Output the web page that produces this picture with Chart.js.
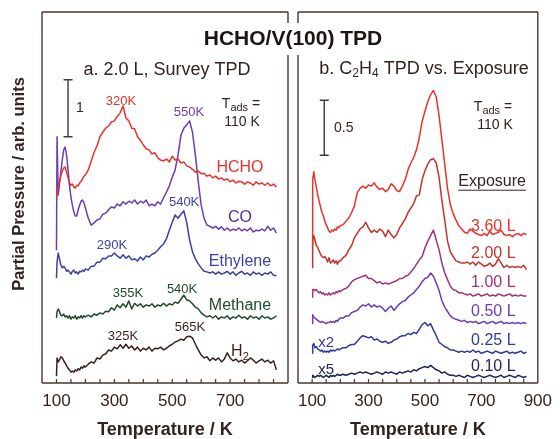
<!DOCTYPE html>
<html><head><meta charset="utf-8">
<script src="https://cdn.jsdelivr.net/npm/chart.js@4.4.1/dist/chart.umd.min.js"></script>
<style>
html,body{margin:0;padding:0;background:#fff;}
#wrap{position:relative;width:560px;height:439px;overflow:hidden;background:#fff;}
canvas{position:absolute;left:0;top:0;}
</style></head><body>
<div id="wrap"><canvas id="cA" width="560" height="439"></canvas><canvas id="cB" width="560" height="439"></canvas></div>
<script>
// ---------- DATA ----------
const temps = [100,102,106,110,115,120,125,130,135,140,145,150,155,160,165,170,175,180,185,190,195,200,
 210,220,230,240,250,260,270,280,290,300,
 310,320,330,340,350,360,370,380,390,400,
 410,420,430,440,450,460,470,480,490,500,
 510,520,530,540,550,560,570,580,590,600,
 610,620,630,640,650,660,670,680,690,700,
 710,720,730,740,750,760,770,780,790,800,
 810,820,830,840,850,860];

// panel a (2.0 L survey), arb. units
const hcho = [3.26,3.35,3.46,3.53,3.63,3.72,3.77,3.79,3.70,3.60,3.51,3.47,3.49,3.44,3.42,3.47,3.46,3.51,3.54,3.58,3.63,3.65,
 3.74,3.89,4.05,4.16,4.32,4.40,4.47,4.51,4.58,4.60,
 4.68,4.74,4.86,4.65,4.60,4.47,4.46,4.32,4.26,4.18,
 4.11,4.09,4.02,4.04,3.95,3.91,3.90,3.93,3.88,3.98,
 3.91,3.93,3.86,3.88,3.81,3.79,3.75,3.70,3.72,3.67,
 3.68,3.63,3.65,3.60,3.63,3.58,3.60,3.56,3.58,3.53,
 3.56,3.51,3.54,3.53,3.49,3.53,3.51,3.47,3.53,3.49,
 3.51,3.47,3.51,3.46,3.49,3.44];
const co = [2.33,4.32,3.30,3.47,3.70,3.91,4.09,4.14,4.00,3.74,3.47,3.26,3.12,3.00,2.93,2.93,3.04,3.12,3.19,3.21,3.16,3.07,
 2.89,2.77,2.81,2.86,2.88,2.96,2.98,3.04,3.09,3.07,
 3.14,3.11,3.18,3.14,3.19,3.16,3.21,3.14,3.19,3.16,
 3.21,3.11,3.14,3.11,3.18,3.14,3.25,3.35,3.46,3.61,
 3.74,4.00,4.35,4.47,4.53,4.60,4.40,4.00,3.53,3.12,
 2.89,2.77,2.75,2.72,2.75,2.70,2.74,2.68,2.72,2.67,
 2.70,2.68,2.72,2.67,2.70,2.67,2.72,2.65,2.68,2.67,
 2.70,2.67,2.75,2.68,2.72,2.63];
const ethylene = [1.84,2.12,2.28,2.19,2.07,2.02,2.05,2.02,1.96,1.98,1.95,1.91,1.96,1.98,1.93,1.95,1.91,1.96,1.95,1.98,1.96,2.00,
 1.98,2.05,2.05,2.12,2.12,2.19,2.18,2.23,2.23,2.28,
 2.23,2.19,2.25,2.19,2.23,2.16,2.18,2.14,2.21,2.16,
 2.23,2.21,2.26,2.28,2.33,2.39,2.44,2.53,2.68,2.82,
 2.95,2.89,2.96,3.02,2.82,2.51,2.30,2.18,2.09,2.02,
 1.96,1.95,1.93,1.95,1.91,1.95,1.91,1.93,1.96,1.91,
 1.95,1.89,1.93,1.96,1.91,1.93,1.89,1.95,1.91,1.93,
 1.89,1.93,1.91,1.95,1.89,1.88];
const methane = [1.14,1.25,1.30,1.26,1.19,1.18,1.21,1.16,1.18,1.14,1.18,1.12,1.16,1.14,1.18,1.12,1.16,1.14,1.18,1.14,1.18,1.16,
 1.19,1.16,1.21,1.19,1.23,1.21,1.26,1.25,1.32,1.28,
 1.37,1.32,1.39,1.33,1.44,1.30,1.40,1.35,1.39,1.33,
 1.37,1.35,1.39,1.33,1.37,1.35,1.40,1.35,1.39,1.37,
 1.42,1.40,1.47,1.54,1.46,1.44,1.39,1.33,1.30,1.23,
 1.19,1.16,1.18,1.14,1.18,1.12,1.16,1.14,1.18,1.12,
 1.16,1.14,1.19,1.14,1.16,1.12,1.18,1.14,1.16,1.12,
 1.18,1.14,1.16,1.12,1.14,1.18];
const hydrogen = [0.12,0.44,0.37,0.40,0.46,0.44,0.39,0.35,0.30,0.26,0.23,0.19,0.21,0.19,0.23,0.21,0.25,0.23,0.28,0.26,0.30,0.28,
 0.33,0.37,0.35,0.44,0.42,0.49,0.51,0.58,0.56,0.63,
 0.60,0.67,0.61,0.68,0.61,0.65,0.58,0.63,0.56,0.61,
 0.58,0.63,0.56,0.61,0.60,0.63,0.58,0.61,0.65,0.68,
 0.72,0.74,0.77,0.75,0.81,0.82,0.79,0.68,0.58,0.49,
 0.44,0.46,0.39,0.44,0.40,0.44,0.37,0.42,0.53,0.44,
 0.39,0.42,0.37,0.40,0.35,0.39,0.44,0.40,0.35,0.39,
 0.42,0.37,0.40,0.35,0.39,0.23];

// panel b (C2H4 vs exposure), arb. units
const exp360 = [1.25,1.85,1.92,1.85,1.78,1.71,1.65,1.60,1.55,1.52,1.47,1.44,1.41,1.38,1.37,1.39,1.38,1.40,1.39,1.42,1.41,1.43,
 1.44,1.47,1.50,1.55,1.61,1.73,1.77,1.79,1.77,1.80,
 1.79,1.82,1.78,1.76,1.77,1.74,1.76,1.81,1.79,1.75,
 1.74,1.79,1.85,1.94,2.00,2.05,2.12,2.23,2.38,2.47,
 2.56,2.62,2.66,2.60,2.43,2.21,1.99,1.77,1.62,1.54,
 1.48,1.43,1.40,1.37,1.36,1.40,1.38,1.36,1.35,1.34,
 1.36,1.34,1.38,1.35,1.36,1.37,1.39,1.35,1.34,1.35,
 1.33,1.35,1.36,1.34,1.36,1.35];
const exp200 = [1.05,1.30,1.34,1.30,1.25,1.23,1.20,1.17,1.15,1.14,1.15,1.13,1.10,1.14,1.09,1.10,1.12,1.09,1.11,1.08,1.11,1.11,
 1.14,1.16,1.21,1.25,1.32,1.36,1.40,1.42,1.46,1.41,
 1.37,1.39,1.37,1.40,1.38,1.33,1.39,1.35,1.32,1.35,
 1.41,1.45,1.49,1.55,1.59,1.63,1.70,1.71,1.85,1.93,
 1.99,2.03,2.04,2.00,1.87,1.66,1.48,1.29,1.19,1.15,
 1.11,1.10,1.09,1.09,1.10,1.08,1.10,1.07,1.10,1.08,
 1.06,1.07,1.09,1.06,1.08,1.13,1.09,1.05,1.07,1.05,
 1.06,1.05,1.06,1.05,1.07,1.03];
const exp100 = [0.78,0.85,0.85,0.84,0.85,0.83,0.82,0.83,0.81,0.82,0.80,0.81,0.80,0.82,0.80,0.81,0.82,0.81,0.83,0.82,0.84,0.83,
 0.85,0.86,0.88,0.92,0.94,0.95,0.96,0.97,0.98,0.95,
 0.95,0.93,0.91,0.92,0.90,0.91,0.90,0.91,0.92,0.93,
 0.95,0.95,0.97,0.98,1.01,1.04,1.08,1.12,1.15,1.23,
 1.29,1.34,1.39,1.30,1.21,1.09,1.00,0.94,0.88,0.85,
 0.84,0.82,0.82,0.81,0.80,0.81,0.79,0.80,0.81,0.79,
 0.80,0.81,0.79,0.80,0.79,0.81,0.80,0.79,0.80,0.81,
 0.79,0.80,0.79,0.80,0.79,0.79];
const exp050 = [0.54,0.62,0.60,0.59,0.58,0.57,0.56,0.55,0.56,0.55,0.55,0.54,0.55,0.55,0.56,0.55,0.56,0.55,0.57,0.56,0.58,0.59,
 0.59,0.61,0.61,0.64,0.65,0.66,0.69,0.71,0.70,0.72,
 0.69,0.71,0.69,0.70,0.68,0.65,0.68,0.70,0.66,0.69,
 0.72,0.74,0.75,0.78,0.80,0.82,0.85,0.88,0.92,0.95,
 0.96,1.00,0.97,0.91,0.84,0.75,0.69,0.65,0.61,0.59,
 0.58,0.57,0.56,0.57,0.55,0.56,0.55,0.56,0.54,0.55,
 0.56,0.54,0.55,0.56,0.54,0.55,0.56,0.54,0.55,0.54,
 0.55,0.54,0.55,0.54,0.55,0.54];
const exp025 = [0.27,0.34,0.36,0.32,0.33,0.31,0.30,0.29,0.30,0.28,0.29,0.28,0.29,0.28,0.30,0.29,0.30,0.29,0.30,0.31,0.30,0.31,
 0.32,0.32,0.34,0.35,0.35,0.38,0.41,0.43,0.42,0.41,
 0.42,0.39,0.40,0.38,0.37,0.38,0.36,0.37,0.39,0.40,
 0.42,0.43,0.43,0.45,0.44,0.46,0.45,0.49,0.53,0.55,
 0.52,0.54,0.48,0.43,0.37,0.35,0.33,0.32,0.30,0.30,
 0.29,0.28,0.29,0.28,0.29,0.28,0.30,0.28,0.29,0.27,
 0.28,0.29,0.28,0.27,0.29,0.28,0.27,0.28,0.29,0.27,
 0.28,0.27,0.28,0.29,0.27,0.28];
const exp010 = [0.05,0.07,0.06,0.05,0.06,0.07,0.06,0.07,0.06,0.05,0.06,0.07,0.06,0.05,0.07,0.06,0.07,0.06,0.07,0.08,0.07,0.07,
 0.08,0.07,0.08,0.09,0.08,0.09,0.10,0.09,0.10,0.09,
 0.08,0.09,0.10,0.09,0.08,0.10,0.09,0.10,0.09,0.08,
 0.10,0.09,0.10,0.11,0.10,0.12,0.11,0.13,0.14,0.15,
 0.14,0.16,0.14,0.12,0.11,0.09,0.10,0.08,0.07,0.07,
 0.06,0.07,0.06,0.05,0.07,0.06,0.05,0.06,0.07,0.06,
 0.05,0.06,0.07,0.06,0.05,0.06,0.07,0.05,0.06,0.07,
 0.06,0.05,0.07,0.06,0.05,0.06];

const leftTickLabels = [100,300,500,700];
const rightTickLabels = [100,300,500,700,900];
const exposureLabels = ['3.60 L','2.00 L','1.00 L','0.50 L','0.25 L','0.10 L'];

// ---------- STYLE ----------
const FONT = '"Liberation Sans", Arial, Helvetica, sans-serif';
const INK = '#33231f';
const FRAME = '#4a3632';
const C = {hcho:'#e8322b', co:'#6a3db4', coLabel:'#5a2d86', eth:'#3b3fa6', meth:'#1f4a2c', h2:'#3b1f1c',
  e360:'#e8322b', e200:'#c4332c', e100:'#a3307c', e050:'#6a3db4', e025:'#2f3b9c', e010:'#1e2358'};
Chart.defaults.font.family = FONT;

const pts = vals => temps.map((t,i)=>({x:t, y:vals[i]}));
const ds = (label, vals, color) => ({label, data:pts(vals), borderColor:color, borderWidth:1.5,
  pointRadius:0, fill:false, tension:0, borderJoinStyle:'round'});

function txt(ctx, s, x, y, size, color, align, bold){
  ctx.save();
  ctx.font = (bold?'bold ':'') + size + 'px ' + FONT;
  ctx.fillStyle = color; ctx.textAlign = align||'center'; ctx.textBaseline = 'middle';
  ctx.fillText(s, x, y); ctx.restore();
}
function rich(ctx, parts, x, y, color, align){
  ctx.save(); ctx.fillStyle = color; ctx.textBaseline = 'middle'; ctx.textAlign = 'left';
  let w = 0;
  parts.forEach(p=>{ ctx.font = p[1]+'px '+FONT; w += ctx.measureText(p[0]).width; });
  let cx = align==='left' ? x : align==='right' ? x-w : x-w/2;
  parts.forEach(p=>{ ctx.font = p[1]+'px '+FONT; ctx.fillText(p[0], cx, y+(p[2]||0)); cx += ctx.measureText(p[0]).width; });
  ctx.restore();
  return w;
}
function frame(ctx, a, gapL, gapR){
  ctx.save(); ctx.strokeStyle = FRAME; ctx.lineWidth = 1.4; ctx.beginPath();
  ctx.moveTo(a.left, a.top); ctx.lineTo(a.right, a.top);
  ctx.moveTo(a.left, a.bottom); ctx.lineTo(a.right, a.bottom);
  const side = (x, gap)=>{ if(gap){ ctx.moveTo(x,a.top); ctx.lineTo(x,23); ctx.moveTo(x,55); ctx.lineTo(x,a.bottom);} else { ctx.moveTo(x,a.top); ctx.lineTo(x,a.bottom);} };
  side(a.left, gapL); side(a.right, gapR);
  ctx.stroke(); ctx.restore();
}
function tickMarks(ctx, chart){
  const xs = chart.scales.x, a = chart.chartArea;
  ctx.save(); ctx.strokeStyle = FRAME; ctx.lineWidth = 1.2; ctx.beginPath();
  xs.ticks.forEach(t=>{ if(t.value>=100 && t.value<=850){ const px = xs.getPixelForValue(t.value); ctx.moveTo(px,a.bottom); ctx.lineTo(px,a.bottom-4);} });
  ctx.stroke(); ctx.restore();
}
function scaleBar(ctx, chart, T, v0, len, label, labT){
  const xs = chart.scales.x, ys = chart.scales.y;
  const x = xs.getPixelForValue(T), y0 = ys.getPixelForValue(v0), y1 = ys.getPixelForValue(v0+len);
  ctx.save(); ctx.strokeStyle = FRAME; ctx.lineWidth = 1.4; ctx.beginPath();
  ctx.moveTo(x,y0); ctx.lineTo(x,y1);
  ctx.moveTo(x-4.5,y0); ctx.lineTo(x+4.5,y0);
  ctx.moveTo(x-4.5,y1); ctx.lineTo(x+4.5,y1);
  ctx.stroke(); ctx.restore();
  txt(ctx, label, xs.getPixelForValue(labT), (y0+y1)/2, 14, INK, 'center');
}
function xAxis(labels){
  return {
    type:'linear', min:50, max:900, position:'bottom',
    grid:{display:false, drawTicks:false}, border:{display:false},
    ticks:{stepSize:50, autoSkip:false, maxRotation:0, minRotation:0, padding:8, color:INK,
      font:{size:17, family:FONT}, callback:(v)=> labels.includes(v) ? String(v) : ''},
    title:{display:true, text:'Temperature / K', color:INK,
      font:{size:18, weight:'bold', family:FONT, lineHeight:1}, padding:{top:0,bottom:0}},
    afterFit:(s)=>{ s.height = 56; }
  };
}

// ---------- PANEL A ----------
const leftNotes = [
  ['320K', 323, 4.94, C.hcho, 13],
  ['550K', 558, 4.74, C.co, 13],
  ['HCHO', 734, 3.78, C.hcho, 16],
  ['CO', 734, 2.90, C.coLabel, 16],
  ['540K', 541, 3.16, C.eth, 13],
  ['290K', 292, 2.42, C.eth, 13],
  ['Ethylene', 734, 2.13, C.eth, 16],
  ['355K', 347, 1.58, C.meth, 13],
  ['540K', 534, 1.65, C.meth, 13],
  ['Methane', 734, 1.35, C.meth, 16],
  ['325K', 330, 0.81, C.h2, 13],
  ['565K', 561, 0.97, C.h2, 13]
];
const decorA = {
  id:'decorA',
  afterDraw(chart){
    const ctx = chart.ctx, a = chart.chartArea, xs = chart.scales.x, ys = chart.scales.y;
    frame(ctx, a, false, true);
    tickMarks(ctx, chart);
    scaleBar(ctx, chart, 140, 4.32, 1, '1', 181);
    leftNotes.forEach(n=> txt(ctx, n[0], xs.getPixelForValue(n[1]), ys.getPixelForValue(n[2]), n[4], n[3], 'center'));
    rich(ctx, [['H',16],['2',11,5]], xs.getPixelForValue(734), ys.getPixelForValue(0.55), C.h2, 'center');
    rich(ctx, [['T',14],['ads',11,4],[' =',14]], 241, 104, INK, 'center');
    txt(ctx, '110 K', 242, 122, 14, INK, 'center');
    txt(ctx, 'a. 2.0 L, Survey TPD', 167, 70, 18, INK, 'center');
    txt(ctx, 'HCHO/V(100) TPD', 293, 39, 21, '#1e1412', 'center', true);
    ctx.save(); ctx.translate(19, 184); ctx.rotate(-Math.PI/2);
    txt(ctx, 'Partial Pressure / arb. units', 0, 0, 16.5, INK, 'center', true);
    ctx.restore();
  }
};
new Chart(document.getElementById('cA'), {
  type:'line',
  data:{datasets:[
    ds('HCHO', hcho, C.hcho), ds('CO', co, C.co), ds('Ethylene', ethylene, C.eth),
    ds('Methane', methane, C.meth), ds('H2', hydrogen, C.h2)
  ]},
  options:{
    responsive:false, animation:false, events:[],
    layout:{padding:{left:42, right:272, top:12, bottom:0}},
    plugins:{legend:{display:false}, tooltip:{enabled:false}},
    scales:{ x:xAxis(leftTickLabels), y:{type:'linear', min:0, max:6.51, display:false} }
  },
  plugins:[decorA]
});

// ---------- PANEL B ----------
const rightNotes = [
  [exposureLabels[0], 1.42, C.e360],
  [exposureLabels[1], 1.18, C.e200],
  [exposureLabels[2], 0.91, C.e100],
  [exposureLabels[3], 0.65, C.e050],
  [exposureLabels[4], 0.39, C.e025],
  [exposureLabels[5], 0.15, C.e010]
];
const decorB = {
  id:'decorB',
  afterDraw(chart){
    const ctx = chart.ctx, a = chart.chartArea, xs = chart.scales.x, ys = chart.scales.y;
    frame(ctx, a, true, false);
    tickMarks(ctx, chart);
    scaleBar(ctx, chart, 143, 2.07, 0.5, '0.5', 212);
    rightNotes.forEach(n=> txt(ctx, n[0], xs.getPixelForValue(821), ys.getPixelForValue(n[1]), 16, n[2], 'right'));
    txt(ctx, 'x2', xs.getPixelForValue(150), ys.getPixelForValue(0.365), 15, C.e025, 'center');
    txt(ctx, 'x5', xs.getPixelForValue(150), ys.getPixelForValue(0.12), 15, C.e010, 'center');
    const ex = xs.getPixelForValue(738), ey = ys.getPixelForValue(1.83);
    txt(ctx, 'Exposure', ex, ey, 16, INK, 'center');
    ctx.save(); ctx.font = '16px '+FONT; const w = ctx.measureText('Exposure').width;
    ctx.strokeStyle = INK; ctx.lineWidth = 1; ctx.beginPath();
    ctx.moveTo(ex-w/2, ey+8.5); ctx.lineTo(ex+w/2, ey+8.5); ctx.stroke(); ctx.restore();
    rich(ctx, [['T',14],['ads',11,4],[' =',14]], 493, 107, INK, 'center');
    txt(ctx, '110 K', 495, 125, 14, INK, 'center');
    rich(ctx, [['b. C',18],['2',12,5],['H',18],['4',12,5],[' TPD vs. Exposure',18]], 424, 69, INK, 'center');
  }
};
new Chart(document.getElementById('cB'), {
  type:'line',
  data:{datasets:[
    ds('3.60 L', exp360, C.e360), ds('2.00 L', exp200, C.e200), ds('1.00 L', exp100, C.e100),
    ds('0.50 L', exp050, C.e050), ds('0.25 L', exp025, C.e025), ds('0.10 L', exp010, C.e010)
  ]},
  options:{
    responsive:false, animation:false, events:[],
    layout:{padding:{left:298, right:15, top:12, bottom:0}},
    plugins:{legend:{display:false}, tooltip:{enabled:false}},
    scales:{ x:xAxis(rightTickLabels), y:{type:'linear', min:0, max:3.373, display:false} }
  },
  plugins:[decorB]
});
</script>
</body></html>
